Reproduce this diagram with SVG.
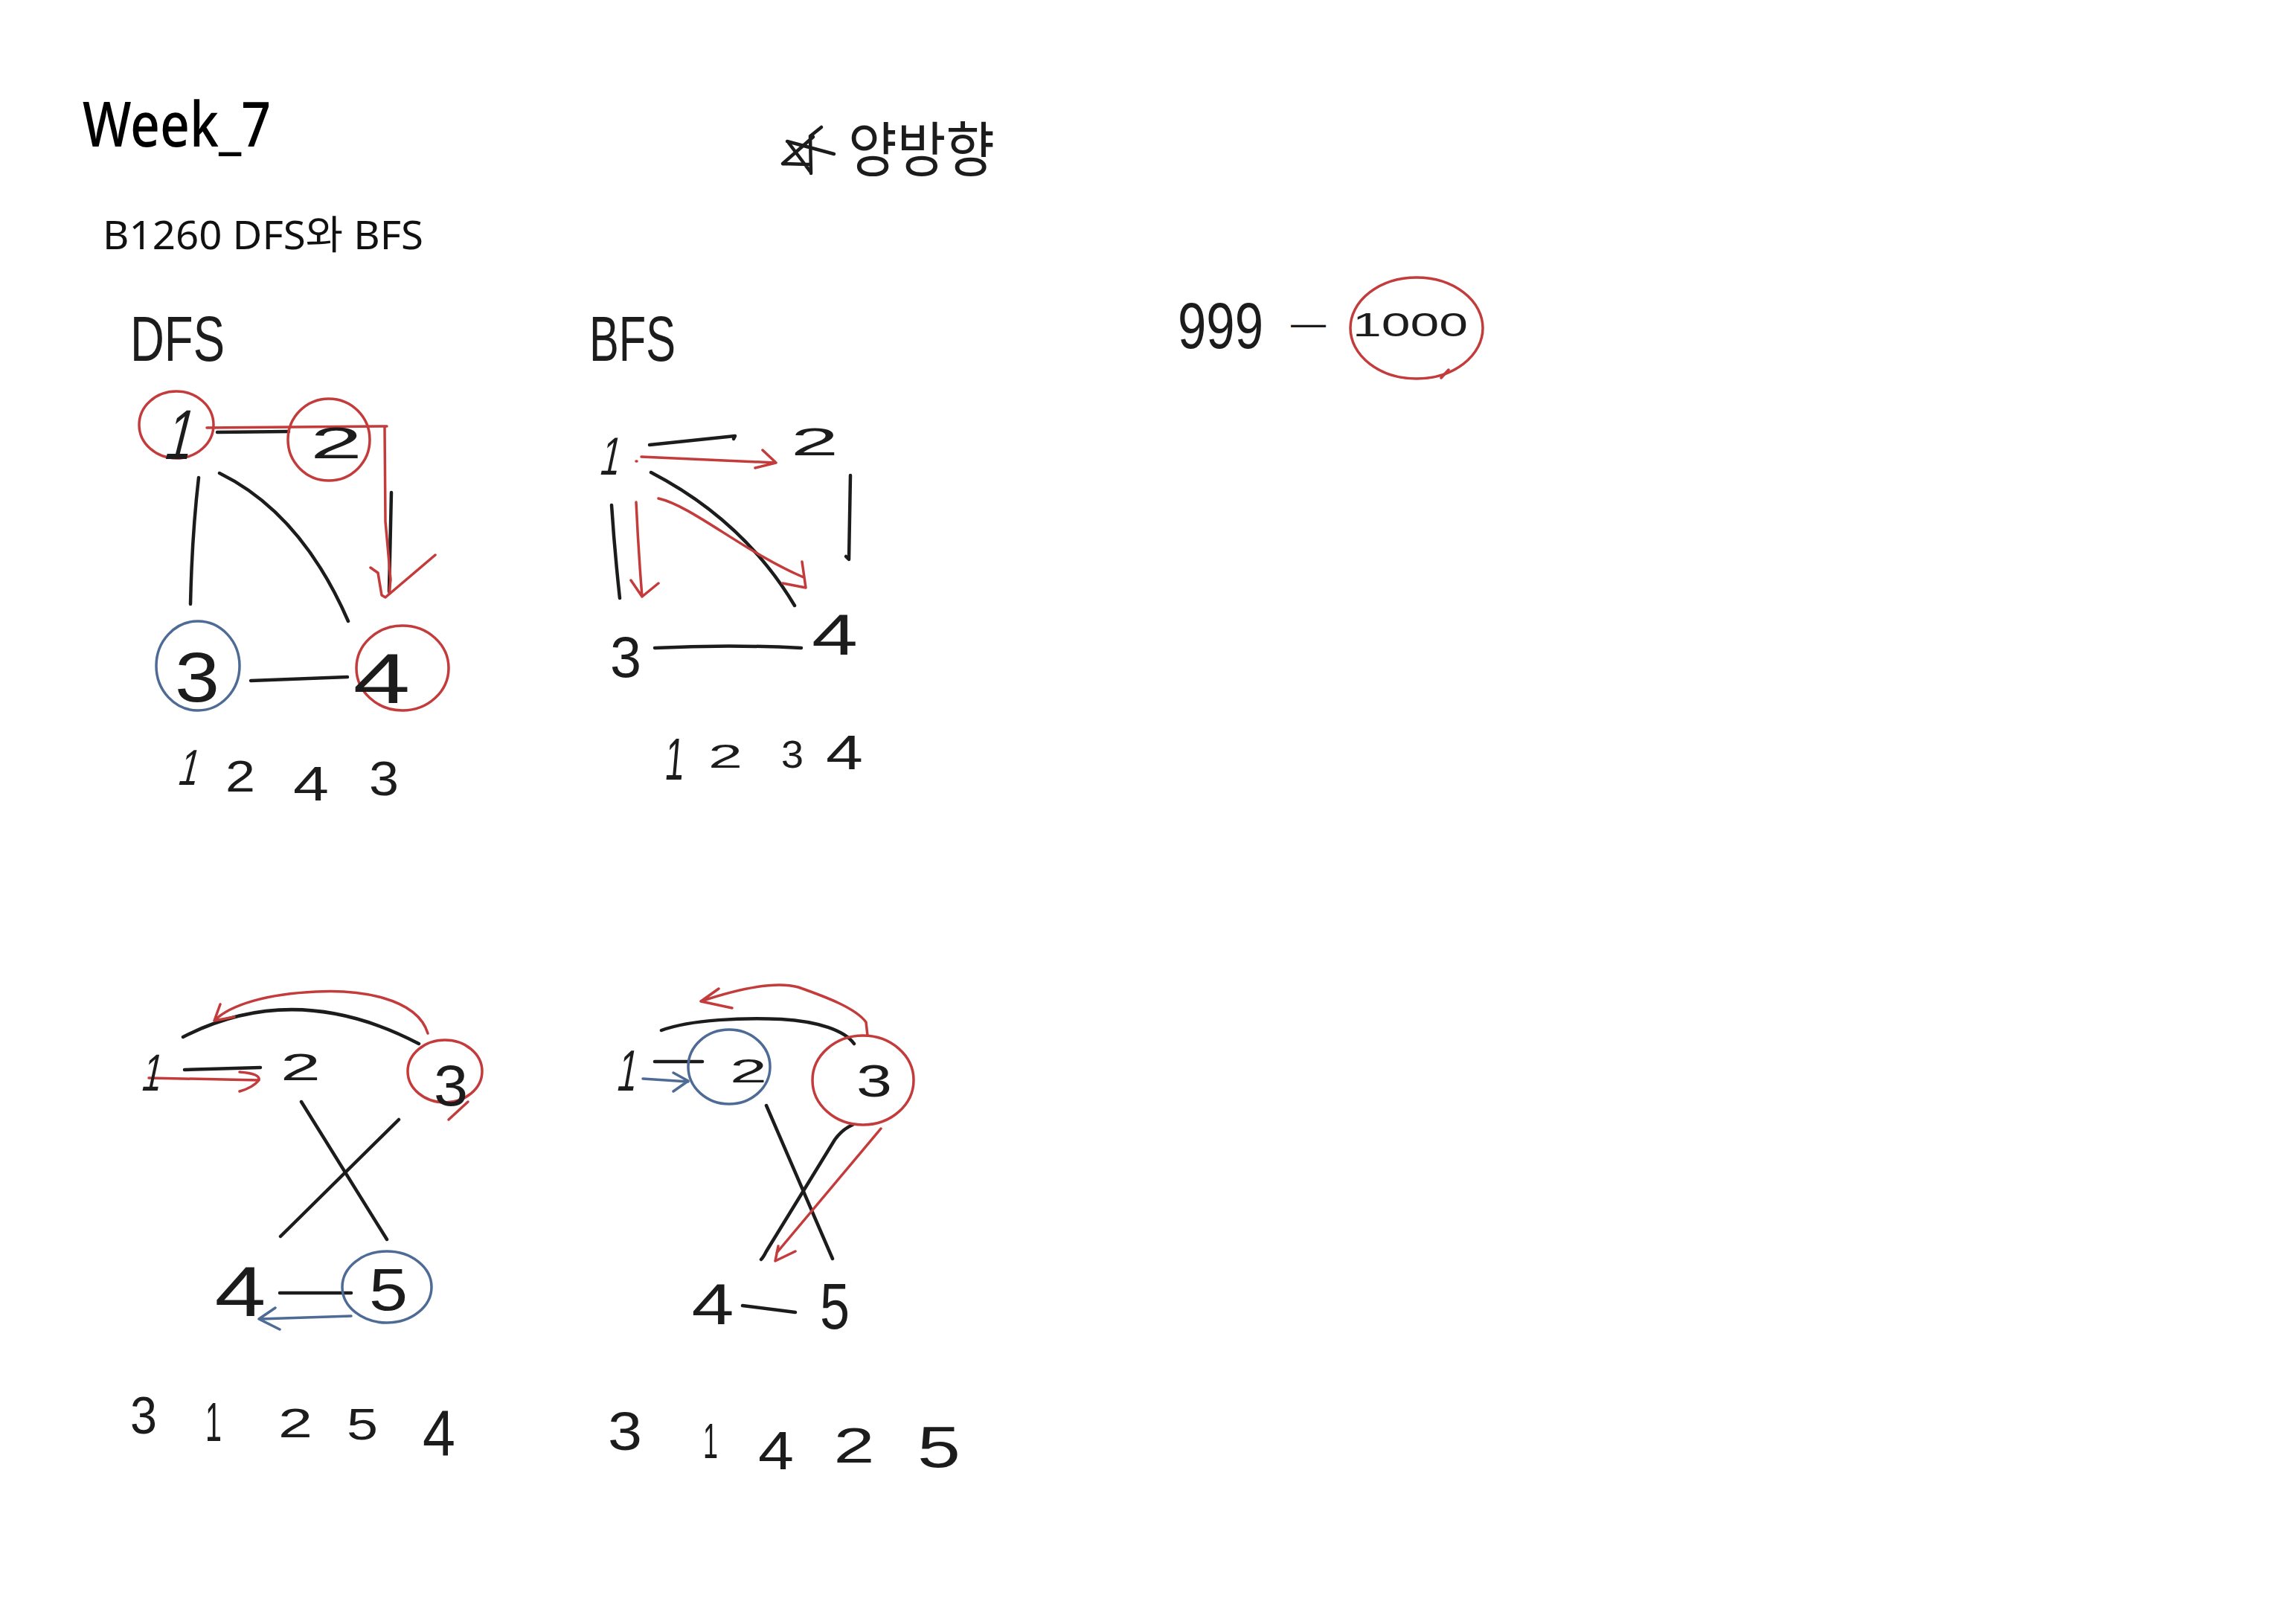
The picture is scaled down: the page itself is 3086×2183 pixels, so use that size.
<svg xmlns="http://www.w3.org/2000/svg" width="3086" height="2183" viewBox="0 0 3086 2183">
<style>
.bg{fill:#ffffff}
.ink{fill:none;stroke:#1c1c1c;stroke-width:4.5;stroke-linecap:round;stroke-linejoin:round}
.red{fill:none;stroke:#c43b3b;stroke-width:3.5;stroke-linecap:round;stroke-linejoin:round}
.blue{fill:none;stroke:#4e6b95;stroke-width:3.5;stroke-linecap:round;stroke-linejoin:round}
.hw{font-family:"Liberation Sans","DejaVu Sans",sans-serif;fill:#1c1c1c;text-anchor:middle}
.hwl{font-family:"Liberation Sans","DejaVu Sans",sans-serif;fill:#1c1c1c}
.title{font-family:"Noto Sans","Noto Sans CJK KR",sans-serif;fill:#000000;font-weight:500}
.sub{font-family:"Noto Sans","Noto Sans CJK KR",sans-serif;fill:#111111;font-weight:400}
.kr{font-family:"Noto Sans CJK KR","Noto Sans",sans-serif;fill:#1c1c1c;font-weight:400}
</style>
<rect class="bg" x="0" y="0" width="3086" height="2183"/>

<!-- Header -->
<g id="title">
<text class="title" x="111" y="197" font-size="84" textLength="253" lengthAdjust="spacingAndGlyphs">Week_7</text>
</g>
<g id="subtitle">
<text class="sub" x="138" y="335" font-size="53" textLength="431" lengthAdjust="spacingAndGlyphs">B1260 DFS와 BFS</text>
</g>
<g id="note-bidirectional">
<path class="ink" d="M1090,233 L1089,183 L1104,171 M1058,190 L1121,207 M1052,220 L1093,184 M1052,220 L1088,221 M1060,192 L1090,232"/>
<text class="kr" x="1140" y="230" font-size="80" textLength="197" lengthAdjust="spacingAndGlyphs">양방향</text>
</g>
<g id="note-999-1000">
<text class="hwl" x="1583" y="468" font-size="88" textLength="115" lengthAdjust="spacingAndGlyphs">999</text>
<text class="hwl" x="1735" y="451" font-size="48" textLength="47" lengthAdjust="spacingAndGlyphs">—</text>
<text class="hwl" x="1818" y="452" font-size="45" textLength="155" lengthAdjust="spacingAndGlyphs">1000</text>
<ellipse class="red" cx="1904" cy="441" rx="89" ry="68"/>
<path class="red" d="M1937,508 L1947,497"/>
</g>

<!-- Top DFS -->
<g id="dfs1-label"><text class="hwl" x="175" y="485" font-size="85" textLength="127" lengthAdjust="spacingAndGlyphs">DFS</text></g>
<g id="dfs1-connectors">
<path class="ink" d="M292,581 L388,580"/>
<path class="ink" d="M267,642 Q258,720 256,812"/>
<path class="ink" d="M295,636 Q405,690 468,835"/>
<path class="ink" d="M526,662 L523,795"/>
<path class="ink" d="M337,915 L467,910"/>
<path class="red" d="M278,575 L520,573 M517,575 L518,701 L525,779 L523,798"/>
<path class="red" d="M498,763 L508,770 L513,800 L518,803 L585,746"/>
</g>
<g id="dfs1-node1"><ellipse class="red" cx="237" cy="571" rx="50" ry="45"/><text class="hw" transform="translate(236,617) skewX(-14)" x="0" y="0" font-size="95" textLength="36" lengthAdjust="spacingAndGlyphs">1</text></g>
<g id="dfs1-node2"><ellipse class="red" cx="442" cy="591" rx="55" ry="55"/><text class="hw" x="452" y="616" font-size="60" textLength="70" lengthAdjust="spacingAndGlyphs">2</text></g>
<g id="dfs1-node3"><ellipse class="blue" cx="266" cy="895" rx="56" ry="60"/><text class="hw" x="265" y="943" font-size="95" textLength="60" lengthAdjust="spacingAndGlyphs">3</text></g>
<g id="dfs1-node4"><ellipse class="red" cx="541" cy="898" rx="62" ry="57"/><text class="hw" x="513" y="945" font-size="95" textLength="77" lengthAdjust="spacingAndGlyphs">4</text></g>
<g id="dfs1-order">
<text class="hw" transform="translate(250,1055) skewX(-14)" x="0" y="0" font-size="68" textLength="26" lengthAdjust="spacingAndGlyphs">1</text>
<text class="hw" x="323" y="1064" font-size="60" textLength="40" lengthAdjust="spacingAndGlyphs">2</text>
<text class="hw" x="418" y="1076" font-size="64" textLength="48" lengthAdjust="spacingAndGlyphs">4</text>
<text class="hw" x="516" y="1069" font-size="64" textLength="40" lengthAdjust="spacingAndGlyphs">3</text>
</g>

<!-- Top BFS -->
<g id="bfs1-label"><text class="hwl" x="792" y="485" font-size="85" textLength="116" lengthAdjust="spacingAndGlyphs">BFS</text></g>
<g id="bfs1-connectors">
<path class="ink" d="M873,598 L988,586 L986,590"/>
<path class="ink" d="M875,635 Q1000,700 1068,814"/>
<path class="ink" d="M822,679 Q826,740 833,804"/>
<path class="ink" d="M1143,639 L1141,752 L1137,748"/>
<path class="ink" d="M880,871 Q980,866 1077,871"/>
<path class="red" d="M855,620 L856,620 M862,614 L1043,622 M1015,629 L1043,622 L1025,605"/>
<path class="red" d="M885,670 C930,680 1000,742 1080,776 M1078,755 L1083,790 L1052,784"/>
<path class="red" d="M855,675 Q858,740 863,802 M848,780 L863,802 L885,784"/>
</g>
<g id="bfs1-node1"><text class="hw" transform="translate(817,638) skewX(-12)" x="0" y="0" font-size="72" textLength="26" lengthAdjust="spacingAndGlyphs">1</text></g>
<g id="bfs1-node2"><text class="hw" x="1095" y="612" font-size="52" textLength="64" lengthAdjust="spacingAndGlyphs">2</text></g>
<g id="bfs1-node3"><text class="hw" x="841" y="910" font-size="78" textLength="42" lengthAdjust="spacingAndGlyphs">3</text></g>
<g id="bfs1-node4"><text class="hw" x="1122" y="880" font-size="78" textLength="62" lengthAdjust="spacingAndGlyphs">4</text></g>
<g id="bfs1-order">
<text class="hw" transform="translate(905,1048) skewX(-5)" x="0" y="0" font-size="80" textLength="26" lengthAdjust="spacingAndGlyphs">1</text>
<text class="hw" x="975" y="1032" font-size="44" textLength="46" lengthAdjust="spacingAndGlyphs">2</text>
<text class="hw" x="1065" y="1032" font-size="52" textLength="30" lengthAdjust="spacingAndGlyphs">3</text>
<text class="hw" x="1135" y="1034" font-size="64" textLength="50" lengthAdjust="spacingAndGlyphs">4</text>
</g>

<!-- Bottom DFS -->
<g id="dfs2-connectors">
<path class="ink" d="M248,1438 L350,1435"/>
<path class="ink" d="M246,1394 Q397,1316 563,1403"/>
<path class="ink" d="M405,1481 L520,1666"/>
<path class="ink" d="M536,1505 L377,1662"/>
<path class="ink" d="M376,1738 L472,1738"/>
<path class="red" d="M200,1449 L348,1452 M322,1441 Q350,1443 348,1452 Q340,1462 322,1467"/>
<path class="red" d="M575,1389 C560,1340 480,1330 425,1333 C360,1336 310,1350 288,1372 M296,1350 L288,1372 L315,1367"/>
<path class="blue" d="M472,1769 L350,1773 M370,1758 L348,1773 L376,1787"/>
</g>
<g id="dfs2-node1"><text class="hw" transform="translate(201,1466) skewX(-12)" x="0" y="0" font-size="70" textLength="26" lengthAdjust="spacingAndGlyphs">1</text></g>
<g id="dfs2-node2"><text class="hw" x="404" y="1452" font-size="50" textLength="54" lengthAdjust="spacingAndGlyphs">2</text></g>
<g id="dfs2-node3"><ellipse class="red" cx="598" cy="1440" rx="50" ry="42"/><path class="red" d="M629,1481 L603,1505"/><text class="hw" x="606" y="1486" font-size="78" textLength="46" lengthAdjust="spacingAndGlyphs">3</text></g>
<g id="dfs2-node4"><text class="hw" x="323" y="1769" font-size="95" textLength="69" lengthAdjust="spacingAndGlyphs">4</text></g>
<g id="dfs2-node5"><ellipse class="blue" cx="520" cy="1730" rx="60" ry="48"/><text class="hw" x="522" y="1761" font-size="80" textLength="52" lengthAdjust="spacingAndGlyphs">5</text></g>
<g id="dfs2-order">
<text class="hw" x="193" y="1927" font-size="70" textLength="36" lengthAdjust="spacingAndGlyphs">3</text>
<text class="hw" x="287" y="1937" font-size="74" textLength="22" lengthAdjust="spacingAndGlyphs">1</text>
<text class="hw" x="397" y="1932" font-size="56" textLength="46" lengthAdjust="spacingAndGlyphs">2</text>
<text class="hw" x="487" y="1935" font-size="60" textLength="42" lengthAdjust="spacingAndGlyphs">5</text>
<text class="hw" x="590" y="1957" font-size="88" textLength="44" lengthAdjust="spacingAndGlyphs">4</text>
</g>

<!-- Bottom BFS -->
<g id="bfs2-connectors">
<path class="ink" d="M880,1427 L944,1427"/>
<path class="ink" d="M889,1385 C930,1370 1000,1368 1050,1370 C1100,1373 1135,1385 1148,1403"/>
<path class="ink" d="M1146,1512 Q1132,1518 1122,1532 L1030,1682 Q1026,1690 1023,1693"/>
<path class="ink" d="M1030,1486 L1119,1692"/>
<path class="ink" d="M998,1755 L1069,1764"/>
<path class="blue" d="M864,1450 L925,1454 M905,1442 L925,1453 L905,1467"/>
<path class="red" d="M1166,1392 L1164,1374 C1150,1355 1110,1340 1073,1327 C1040,1318 990,1330 942,1346 M966,1329 L942,1346 L984,1355"/>
<path class="red" d="M1184,1517 L1044,1684 M1046,1675 L1042,1695 L1069,1682"/>
</g>
<g id="bfs2-node1"><text class="hw" transform="translate(840,1466) skewX(-10)" x="0" y="0" font-size="78" textLength="26" lengthAdjust="spacingAndGlyphs">1</text></g>
<g id="bfs2-node2"><ellipse class="blue" cx="980" cy="1434" rx="55" ry="50"/><text class="hw" x="1006" y="1455" font-size="44" textLength="50" lengthAdjust="spacingAndGlyphs">2</text></g>
<g id="bfs2-node3"><ellipse class="red" cx="1160" cy="1452" rx="68" ry="60"/><text class="hw" x="1175" y="1474" font-size="62" textLength="48" lengthAdjust="spacingAndGlyphs">3</text></g>
<g id="bfs2-node4"><text class="hw" x="958" y="1780" font-size="78" textLength="57" lengthAdjust="spacingAndGlyphs">4</text></g>
<g id="bfs2-node5"><text class="hw" x="1122" y="1786" font-size="88" textLength="40" lengthAdjust="spacingAndGlyphs">5</text></g>
<g id="bfs2-order">
<text class="hw" x="840" y="1949" font-size="72" textLength="46" lengthAdjust="spacingAndGlyphs">3</text>
<text class="hw" x="955" y="1960" font-size="66" textLength="20" lengthAdjust="spacingAndGlyphs">1</text>
<text class="hw" x="1043" y="1975" font-size="72" textLength="48" lengthAdjust="spacingAndGlyphs">4</text>
<text class="hw" x="1148" y="1966" font-size="66" textLength="55" lengthAdjust="spacingAndGlyphs">2</text>
<text class="hw" x="1262" y="1972" font-size="78" textLength="58" lengthAdjust="spacingAndGlyphs">5</text>
</g>
</svg>
